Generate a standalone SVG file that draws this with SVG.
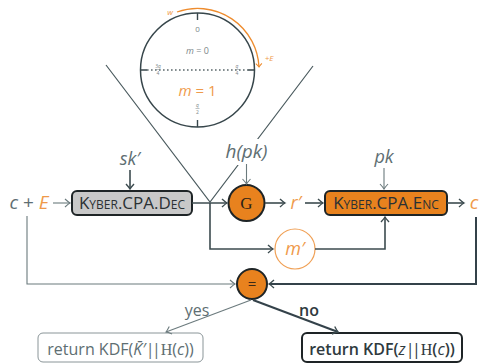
<svg xmlns="http://www.w3.org/2000/svg" width="479" height="363" viewBox="0 0 479 363">
  <style>
    text { font-family: "Open Sans", "Noto Sans", sans-serif; text-anchor: middle; }
    .lbl { fill: #5e6e72; font-size: 18px; }
    .math { font-style: italic; }
    .org { fill: #ef9a4a; }
    .rm { font-family: "Liberation Serif", serif; font-style: normal; }
    .conn { fill: none; stroke: #3c4b4f; stroke-width: 1.6; }
    .thin { fill: none; stroke: #6b7a7d; stroke-width: 1.1; }
    .thick { fill: none; stroke: #34424a; stroke-width: 2; }
    .box { stroke: #1e2426; stroke-width: 2; }
    .sc { font-variant: small-caps; font-size: 17px; fill: #2b3134; }
    .tiny { fill: #7a8688; font-size: 5px; }
  </style>
  <defs>
    <marker id="ah" viewBox="-6 -5 8 10" markerWidth="8" markerHeight="10" refX="0" refY="0" orient="auto" markerUnits="userSpaceOnUse">
      <path d="M-5,-4 Q-1.5,-0.8 0,0 Q-1.5,0.8 -5,4" fill="none" stroke="#3c4b4f" stroke-width="1.4"/>
    </marker>
    <marker id="ahThin" viewBox="-6 -5 8 10" markerWidth="8" markerHeight="10" refX="0" refY="0" orient="auto" markerUnits="userSpaceOnUse">
      <path d="M-5,-4 Q-1.5,-0.8 0,0 Q-1.5,0.8 -5,4" fill="none" stroke="#6b7a7d" stroke-width="1.1"/>
    </marker>
    <marker id="ahOrg" viewBox="-6 -5 8 10" markerWidth="7" markerHeight="9" refX="0" refY="0" orient="auto" markerUnits="userSpaceOnUse">
      <path d="M-4,-3.5 Q-1.2,-0.7 0,0 Q-1.2,0.7 -4,3.5" fill="none" stroke="#ee8c2e" stroke-width="1.2"/>
    </marker>
  </defs>

  <!-- decoding circle: message regions on Z_q -->
  <g id="ring">
    <circle cx="197.5" cy="70" r="57" fill="none" stroke="#37464b" stroke-width="1.5"/>
    <path d="M197.5,13 V20 M197.5,127 V120 M140.5,70 H147 M254.5,70 H248" stroke="#37464b" stroke-width="1.4"/>
    <line x1="147" y1="70" x2="248" y2="70" stroke="#5b686b" stroke-width="1.4" stroke-dasharray="1.6 2.4"/>
    <text x="197.5" y="32" style="font-size:8px" fill="#7a8688">0</text>
    <text x="197.5" y="54" style="font-size:9px" fill="#7a8688"><tspan class="math">m</tspan> = 0</text>
    <text x="158" y="68" class="tiny">3<tspan font-style="italic">q</tspan></text>
    <line x1="155.5" y1="69.5" x2="160.5" y2="69.5" stroke="#7a8688" stroke-width="0.5"/>
    <text x="158" y="75" class="tiny">4</text>
    <text x="237" y="68" class="tiny" font-style="italic">q</text>
    <line x1="235" y1="69.5" x2="239" y2="69.5" stroke="#7a8688" stroke-width="0.5"/>
    <text x="237" y="75" class="tiny">4</text>
    <text x="197.5" y="107" class="tiny" font-style="italic">q</text>
    <line x1="195.5" y1="108.5" x2="199.5" y2="108.5" stroke="#7a8688" stroke-width="0.5"/>
    <text x="197.5" y="114" class="tiny">2</text>
    <text x="197.5" y="96" style="font-size:15px" class="org"><tspan class="math">m</tspan> = 1</text>
    <path d="M177,12 A61.5,61.5 0 0 1 259,67" fill="none" stroke="#ee8c2e" stroke-width="1.3" marker-end="url(#ahOrg)"/>
    <text x="170" y="15" style="font-size:8px" class="org math">w</text>
    <text x="269" y="61" style="font-size:8px" class="org math">+E</text>
  </g>

  <!-- zoom cone from the circle down to the decoder output -->
  <g id="cone">
    <path d="M106,65 L210,202 L313,66" fill="none" stroke="#4a5a5e" stroke-width="1.2"/>
  </g>

  <g id="input">
    <text x="29" y="209" class="lbl" style="font-size:19px"><tspan class="math">c</tspan> + <tspan class="org math">E</tspan></text>
  </g>

  <g id="sk">
    <text x="130" y="165" class="lbl math">sk′</text>
  </g>

  <g id="dec">
    <rect x="72" y="191" width="120" height="24" rx="5" fill="#c8c8c8" class="box"/>
    <text x="132" y="209" class="sc">Kyber.CPA.Dec</text>
  </g>

  <g id="hpk">
    <rect x="222" y="139" width="50" height="26" fill="#ffffff"/>
    <text x="246.5" y="158" class="lbl math" style="font-size:19px">h(pk)</text>
  </g>

  <g id="G">
    <circle cx="246.5" cy="203" r="18" fill="#e8821e" class="box"/>
    <text x="246.5" y="209" style="font-family:'Liberation Serif',serif;font-size:17px" fill="#2b2116">G</text>
  </g>

  <g id="r">
    <text x="296" y="209" class="lbl org math">r′</text>
  </g>

  <g id="pk">
    <text x="384" y="163" class="lbl math">pk</text>
  </g>

  <g id="enc">
    <rect x="325" y="191" width="122" height="24" rx="5" fill="#e8821e" class="box"/>
    <text x="386" y="209" class="sc">Kyber.CPA.Enc</text>
  </g>

  <g id="cOut">
    <text x="474" y="209" class="lbl org math" style="font-size:19px">c</text>
  </g>

  <g id="m">
    <circle cx="295" cy="249" r="20" fill="#ffffff" stroke="#f0a055" stroke-width="1.2"/>
    <text x="295" y="255" class="lbl org math">m′</text>
  </g>

  <g id="eq">
    <circle cx="252" cy="284" r="15" fill="#e8821e" class="box"/>
    <text x="252" y="289" style="font-size:15px" fill="#3a2a18">=</text>
  </g>

  <g id="yes">
    <text x="197" y="316" class="lbl" style="font-size:16px">yes</text>
  </g>
  <g id="no">
    <text x="309" y="316" style="font-size:16px;font-weight:600" fill="#2f3a3e">no</text>
  </g>

  <g id="retK">
    <rect x="38" y="333" width="165" height="29" rx="5" fill="#ffffff" stroke="#8a9598" stroke-width="1"/>
    <text x="120.5" y="355" class="lbl" style="font-size:16px">return KDF(<tspan class="math">K̄′</tspan><tspan letter-spacing="-2.5">||</tspan><tspan dx="2.5" class="rm">H</tspan>(<tspan class="math">c</tspan>))</text>
  </g>
  <g id="retZ">
    <rect x="302" y="333" width="160" height="29" rx="5" fill="#ffffff" stroke="#1e2426" stroke-width="2"/>
    <text x="382" y="355" style="font-size:16px;font-weight:600" fill="#2f3a3e">return KDF(<tspan class="math" font-weight="400">z</tspan><tspan font-weight="400" letter-spacing="-2.5">||</tspan><tspan dx="2.5" class="rm" font-weight="400">H</tspan>(<tspan class="math" font-weight="400">c</tspan>))</text>
  </g>

  <!-- connectors -->
  <g id="connectors">
    <line x1="53" y1="203" x2="70" y2="203" class="thin" marker-end="url(#ahThin)"/>
    <line x1="130" y1="170" x2="130" y2="189" class="conn" marker-end="url(#ah)"/>
    <line x1="192" y1="203" x2="227" y2="203" class="conn" marker-end="url(#ah)"/>
    <line x1="246.5" y1="164" x2="246.5" y2="184" class="thin" marker-end="url(#ahThin)"/>
    <line x1="265" y1="203" x2="285" y2="203" class="conn" marker-end="url(#ah)"/>
    <line x1="305" y1="203" x2="323" y2="203" class="conn" marker-end="url(#ah)"/>
    <line x1="384" y1="168" x2="384" y2="189" class="thin" marker-end="url(#ahThin)"/>
    <line x1="447" y1="203" x2="464" y2="203" class="conn" marker-end="url(#ah)"/>
    <polyline points="210,203 210,249 273,249" class="conn" marker-end="url(#ah)"/>
    <polyline points="315,249 385,249 385,217" class="conn" marker-end="url(#ah)"/>
    <polyline points="27,216 27,284 235,284" class="thin" marker-end="url(#ahThin)"/>
    <polyline points="476,217 476,284 269,284" class="thick" marker-end="url(#ah)"/>
    <line x1="251" y1="300" x2="166" y2="332" class="thin" marker-end="url(#ahThin)"/>
    <line x1="253" y1="300" x2="338" y2="332" class="thick" marker-end="url(#ah)"/>
  </g>
</svg>
